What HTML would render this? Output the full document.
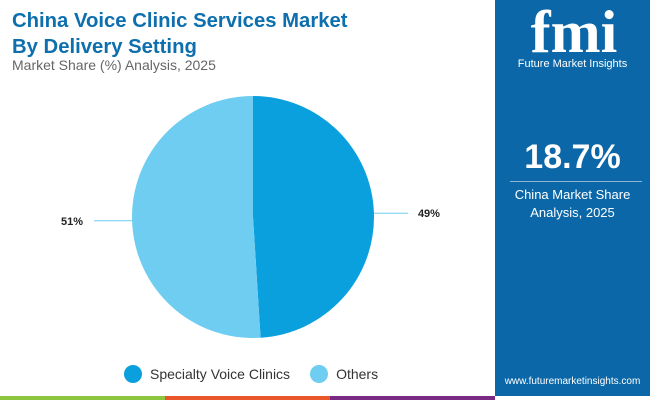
<!DOCTYPE html>
<html><head><meta charset="utf-8"><style>
body{margin:0;width:650px;height:400px;overflow:hidden;background:#fff;font-family:"Liberation Sans",sans-serif;position:relative}
.abs{position:absolute}
</style></head><body>
<div class="abs" style="left:12px;top:8px;font-size:20.3px;font-weight:bold;color:#0d6fae;line-height:26px">China Voice Clinic Services Market<br>By Delivery Setting</div>
<div class="abs" style="left:12px;top:57px;font-size:14px;color:#666">Market Share (%) Analysis, 2025</div>
<div class="abs" style="left:495px;top:0;width:155px;height:396px;background:#0b67a8"></div>
<div class="abs" style="left:515px;top:2px;width:118px;text-align:center;color:#fff;font-size:60px;font-weight:bold;line-height:60px;font-family:'Liberation Serif',serif">fmi</div>
<div class="abs" style="left:505px;top:58px;width:135px;text-align:center;color:#fff;font-size:11px">Future Market Insights</div>
<div class="abs" style="left:495px;top:138px;width:155px;text-align:center;color:#fff;font-size:34px;font-weight:bold">18.7%</div>
<div class="abs" style="left:510px;top:181px;width:132px;height:1px;background:#8fb8d8"></div>
<div class="abs" style="left:495px;top:186px;width:155px;text-align:center;color:#fff;font-size:13px;line-height:18px">China Market Share<br>Analysis, 2025</div>
<div class="abs" style="left:495px;top:376px;width:155px;text-align:center;color:#fff;font-size:10px">www.futuremarketinsights.com</div>
<div class="abs" style="left:0;top:396px;width:165px;height:4px;background:#8cc63f"></div>
<div class="abs" style="left:165px;top:396px;width:165px;height:4px;background:#e8562a"></div>
<div class="abs" style="left:330px;top:396px;width:165px;height:4px;background:#7b2a83"></div>
<svg class="abs" style="left:0;top:0" width="495" height="396"><g id="g"></g></svg>
<div class="abs" style="left:124px;top:365px;font-size:14px;color:#333;display:flex;align-items:center">
<span style="width:18px;height:18px;border-radius:50%;background:#0aa0dd;display:inline-block;margin-right:8px"></span><span>Specialty Voice Clinics</span>
<span style="width:18px;height:18px;border-radius:50%;background:#6fcdf1;display:inline-block;margin:0 8px 0 20px"></span><span>Others</span></div>
<script>
const categories=["Specialty Voice Clinics","Others"];
const values=[49,51];
const colors=["#0aa0dd","#6fcdf1"];
const g=document.getElementById('g');const ns="http://www.w3.org/2000/svg";
const cx=253,cy=217,r=121;let a0=-Math.PI/2;const tot=values.reduce((a,b)=>a+b,0);
values.forEach((v,i)=>{const a1=a0+v/tot*2*Math.PI;
const p=document.createElementNS(ns,'path');
const x0=cx+r*Math.cos(a0),y0=cy+r*Math.sin(a0),x1=cx+r*Math.cos(a1),y1=cy+r*Math.sin(a1);
p.setAttribute('d',`M${cx},${cy}L${x0},${y0}A${r},${r} 0 ${a1-a0>Math.PI?1:0} 1 ${x1},${y1}Z`);
p.setAttribute('fill',colors[i]);


g.appendChild(p);
const m=(a0+a1)/2;const right=Math.cos(m)>0;
const lx0=cx+r*Math.cos(m),ly=cy+r*Math.sin(m);
const lx1=right?lx0+34:lx0-38;
const l=document.createElementNS(ns,'line');
l.setAttribute('x1',lx0);l.setAttribute('y1',ly);l.setAttribute('x2',lx1);l.setAttribute('y2',ly);
l.setAttribute('stroke','#6fcdf1');


g.appendChild(l);
const t=document.createElementNS(ns,'text');
t.setAttribute('x',right?lx1+10:lx1-11);t.setAttribute('y',ly+4);
t.setAttribute('text-anchor',right?'start':'end');
t.setAttribute('font-size','11');t.setAttribute('font-weight','bold');t.setAttribute('fill','#222');
t.textContent=v+'%';


g.appendChild(t);
a0=a1;});
</script>
</body></html>
